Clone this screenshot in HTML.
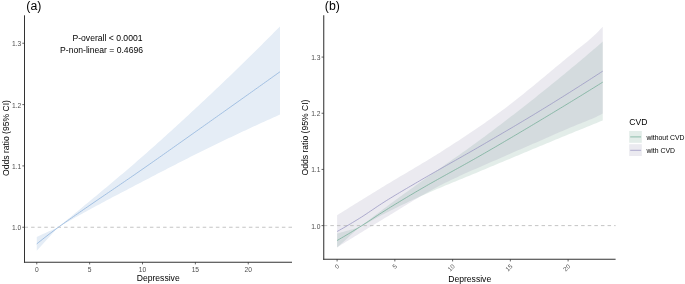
<!DOCTYPE html>
<html><head><meta charset="utf-8"><style>
html,body{margin:0;padding:0;background:#fff;overflow:hidden;}
svg{display:block;will-change:transform;}
text{font-family:"Liberation Sans",sans-serif;}
.tk{font-size:6.7px;fill:#4d4d4d;}
.ttl{font-size:8.6px;fill:#000;}
.lab{font-size:12.3px;fill:#000;}
.leg{font-size:6.85px;fill:#000;}
</style></head><body>
<svg width="685" height="284" viewBox="0 0 685 284">
<rect width="685" height="284" fill="#fff"/>
<path d="M36.75,236.98 L38.79,236.00 L40.84,235.03 L42.88,234.08 L44.93,233.14 L46.97,232.23 L49.01,231.33 L51.06,230.44 L53.10,229.58 L55.15,228.72 L57.19,227.89 L59.23,226.46 L61.28,224.73 L63.32,223.01 L65.36,221.31 L67.41,219.62 L69.45,217.92 L71.50,216.23 L73.54,214.54 L75.58,212.84 L77.63,211.14 L79.67,209.45 L81.72,207.75 L83.76,206.06 L85.80,204.36 L87.85,202.67 L89.89,200.98 L91.94,199.28 L93.98,197.59 L96.02,195.89 L98.07,194.20 L100.11,192.50 L102.16,190.80 L104.20,189.09 L106.24,187.39 L108.29,185.68 L110.33,183.97 L112.37,182.26 L114.42,180.54 L116.46,178.82 L118.51,177.10 L120.55,175.37 L122.59,173.64 L124.64,171.90 L126.68,170.16 L128.73,168.41 L130.77,166.66 L132.81,164.90 L134.86,163.13 L136.90,161.36 L138.95,159.58 L140.99,157.80 L143.03,156.00 L145.08,154.21 L147.12,152.41 L149.16,150.60 L151.21,148.79 L153.25,146.97 L155.30,145.15 L157.34,143.32 L159.38,141.49 L161.43,139.65 L163.47,137.81 L165.52,135.97 L167.56,134.12 L169.60,132.27 L171.65,130.41 L173.69,128.55 L175.74,126.68 L177.78,124.81 L179.82,122.94 L181.87,121.06 L183.91,119.18 L185.96,117.29 L188.00,115.40 L190.04,113.51 L192.09,111.62 L194.13,109.72 L196.17,107.81 L198.22,105.91 L200.26,104.00 L202.31,102.09 L204.35,100.17 L206.39,98.25 L208.44,96.33 L210.48,94.40 L212.53,92.47 L214.57,90.54 L216.61,88.60 L218.66,86.65 L220.70,84.71 L222.75,82.75 L224.79,80.80 L226.83,78.84 L228.88,76.88 L230.92,74.91 L232.97,72.94 L235.01,70.96 L237.05,68.98 L239.10,67.00 L241.14,65.01 L243.18,63.01 L245.23,61.02 L247.27,59.02 L249.32,57.01 L251.36,55.00 L253.40,52.99 L255.45,50.97 L257.49,48.95 L259.54,46.92 L261.58,44.89 L263.62,42.85 L265.67,40.81 L267.71,38.77 L269.76,36.72 L271.80,34.66 L273.84,32.61 L275.89,30.54 L277.93,28.48 L279.98,26.41 L279.98,114.60 L277.93,115.51 L275.89,116.42 L273.84,117.33 L271.80,118.25 L269.76,119.17 L267.71,120.09 L265.67,121.01 L263.62,121.94 L261.58,122.87 L259.54,123.80 L257.49,124.74 L255.45,125.68 L253.40,126.62 L251.36,127.56 L249.32,128.51 L247.27,129.46 L245.23,130.41 L243.18,131.36 L241.14,132.32 L239.10,133.28 L237.05,134.24 L235.01,135.20 L232.97,136.17 L230.92,137.14 L228.88,138.12 L226.83,139.09 L224.79,140.07 L222.75,141.05 L220.70,142.03 L218.66,143.02 L216.61,144.01 L214.57,145.00 L212.53,146.00 L210.48,146.99 L208.44,147.99 L206.39,149.00 L204.35,150.00 L202.31,151.01 L200.26,152.02 L198.22,153.03 L196.17,154.05 L194.13,155.07 L192.09,156.09 L190.04,157.12 L188.00,158.15 L185.96,159.18 L183.91,160.21 L181.87,161.25 L179.82,162.29 L177.78,163.33 L175.74,164.38 L173.69,165.42 L171.65,166.47 L169.60,167.52 L167.56,168.58 L165.52,169.63 L163.47,170.69 L161.43,171.75 L159.38,172.81 L157.34,173.87 L155.30,174.93 L153.25,176.00 L151.21,177.06 L149.16,178.13 L147.12,179.19 L145.08,180.26 L143.03,181.33 L140.99,182.40 L138.95,183.47 L136.90,184.54 L134.86,185.61 L132.81,186.68 L130.77,187.74 L128.73,188.81 L126.68,189.88 L124.64,190.95 L122.59,192.01 L120.55,193.08 L118.51,194.15 L116.46,195.23 L114.42,196.30 L112.37,197.37 L110.33,198.45 L108.29,199.53 L106.24,200.61 L104.20,201.70 L102.16,202.79 L100.11,203.88 L98.07,204.98 L96.02,206.07 L93.98,207.18 L91.94,208.29 L89.89,209.40 L87.85,210.52 L85.80,211.64 L83.76,212.77 L81.72,213.90 L79.67,215.04 L77.63,216.19 L75.58,217.34 L73.54,218.50 L71.50,219.66 L69.45,220.82 L67.41,221.99 L65.36,223.16 L63.32,224.35 L61.28,225.56 L59.23,226.79 L57.19,228.36 L55.15,230.55 L53.10,232.76 L51.06,234.97 L49.01,237.19 L46.97,239.42 L44.93,241.65 L42.88,243.90 L40.84,246.16 L38.79,248.43 L36.75,250.70 Z" fill="#e5edf6"/>
<line x1="24.5" y1="227.25" x2="292" y2="227.25" stroke="#bdbdbd" stroke-width="0.9" stroke-dasharray="3.5,3.1"/>
<path d="M36.75,243.88 L38.79,242.24 L40.84,240.62 L42.88,239.01 L44.93,237.41 L46.97,235.83 L49.01,234.26 L51.06,232.71 L53.10,231.17 L55.15,229.64 L57.19,228.12 L59.23,226.62 L61.28,225.14 L63.32,223.68 L65.36,222.24 L67.41,220.80 L69.45,219.37 L71.50,217.95 L73.54,216.52 L75.58,215.09 L77.63,213.67 L79.67,212.25 L81.72,210.83 L83.76,209.42 L85.80,208.01 L87.85,206.61 L89.89,205.20 L91.94,203.80 L93.98,202.40 L96.02,201.00 L98.07,199.61 L100.11,198.21 L102.16,196.82 L104.20,195.43 L106.24,194.04 L108.29,192.64 L110.33,191.25 L112.37,189.86 L114.42,188.47 L116.46,187.08 L118.51,185.68 L120.55,184.29 L122.59,182.89 L124.64,181.49 L126.68,180.09 L128.73,178.69 L130.77,177.28 L132.81,175.88 L134.86,174.47 L136.90,173.05 L138.95,171.63 L140.99,170.21 L143.03,168.79 L145.08,167.36 L147.12,165.93 L149.16,164.50 L151.21,163.07 L153.25,161.64 L155.30,160.20 L157.34,158.77 L159.38,157.33 L161.43,155.89 L163.47,154.45 L165.52,153.01 L167.56,151.56 L169.60,150.12 L171.65,148.67 L173.69,147.23 L175.74,145.78 L177.78,144.34 L179.82,142.89 L181.87,141.44 L183.91,139.99 L185.96,138.55 L188.00,137.10 L190.04,135.65 L192.09,134.20 L194.13,132.76 L196.17,131.31 L198.22,129.86 L200.26,128.41 L202.31,126.97 L204.35,125.52 L206.39,124.07 L208.44,122.63 L210.48,121.18 L212.53,119.73 L214.57,118.28 L216.61,116.83 L218.66,115.38 L220.70,113.94 L222.75,112.49 L224.79,111.04 L226.83,109.59 L228.88,108.14 L230.92,106.68 L232.97,105.23 L235.01,103.78 L237.05,102.33 L239.10,100.88 L241.14,99.43 L243.18,97.97 L245.23,96.52 L247.27,95.07 L249.32,93.61 L251.36,92.16 L253.40,90.71 L255.45,89.25 L257.49,87.80 L259.54,86.34 L261.58,84.88 L263.62,83.43 L265.67,81.97 L267.71,80.52 L269.76,79.06 L271.80,77.60 L273.84,76.14 L275.89,74.69 L277.93,73.23 L279.98,71.77" fill="none" stroke="#9bbbe0" stroke-width="0.9"/>
<line x1="24.5" y1="15.3" x2="24.5" y2="262.7" stroke="#333" stroke-width="1.05"/>
<line x1="23.95" y1="262.2" x2="292" y2="262.2" stroke="#333" stroke-width="1.05"/>
<line x1="22.3" y1="227.25" x2="24.5" y2="227.25" stroke="#333" stroke-width="0.75"/>
<text x="21.2" y="230.25" class="tk" text-anchor="end">1.0</text>
<line x1="22.3" y1="165.9" x2="24.5" y2="165.9" stroke="#333" stroke-width="0.75"/>
<text x="21.2" y="168.9" class="tk" text-anchor="end">1.1</text>
<line x1="22.3" y1="104.6" x2="24.5" y2="104.6" stroke="#333" stroke-width="0.75"/>
<text x="21.2" y="107.6" class="tk" text-anchor="end">1.2</text>
<line x1="22.3" y1="43.25" x2="24.5" y2="43.25" stroke="#333" stroke-width="0.75"/>
<text x="21.2" y="46.25" class="tk" text-anchor="end">1.3</text>
<line x1="36.75" y1="262.2" x2="36.75" y2="264.4" stroke="#333" stroke-width="0.75"/>
<text x="36.75" y="271.7" class="tk" text-anchor="middle">0</text>
<line x1="89.625" y1="262.2" x2="89.625" y2="264.4" stroke="#333" stroke-width="0.75"/>
<text x="89.625" y="271.7" class="tk" text-anchor="middle">5</text>
<line x1="142.5" y1="262.2" x2="142.5" y2="264.4" stroke="#333" stroke-width="0.75"/>
<text x="142.5" y="271.7" class="tk" text-anchor="middle">10</text>
<line x1="195.375" y1="262.2" x2="195.375" y2="264.4" stroke="#333" stroke-width="0.75"/>
<text x="195.375" y="271.7" class="tk" text-anchor="middle">15</text>
<line x1="248.25" y1="262.2" x2="248.25" y2="264.4" stroke="#333" stroke-width="0.75"/>
<text x="248.25" y="271.7" class="tk" text-anchor="middle">20</text>
<text x="142.5" y="40.5" class="ttl" text-anchor="end">P-overall &lt; 0.0001</text>
<text x="143" y="53.2" class="ttl" text-anchor="end">P-non-linear = 0.4696</text>
<text x="158.2" y="281" class="ttl" text-anchor="middle">Depressive</text>
<text transform="translate(8.8,138) rotate(-90)" class="ttl" text-anchor="middle">Odds ratio (95% CI)</text>
<text x="26.3" y="9.7" class="lab">(a)</text>
<path d="M337.10,233.49 L339.33,232.91 L341.56,232.32 L343.80,231.71 L346.03,231.10 L348.26,230.49 L350.49,229.86 L352.73,229.23 L354.96,228.59 L357.19,227.94 L359.42,227.12 L361.66,225.50 L363.89,223.84 L366.12,222.17 L368.35,220.48 L370.59,218.77 L372.82,217.06 L375.05,215.34 L377.28,213.63 L379.51,211.92 L381.75,210.23 L383.98,208.55 L386.21,206.90 L388.44,205.25 L390.68,203.61 L392.91,201.97 L395.14,200.34 L397.37,198.71 L399.61,197.09 L401.84,195.47 L404.07,193.85 L406.30,192.24 L408.54,190.63 L410.77,189.02 L413.00,187.41 L415.23,185.81 L417.46,184.21 L419.70,182.62 L421.93,181.02 L424.16,179.44 L426.39,177.86 L428.63,176.28 L430.86,174.71 L433.09,173.14 L435.32,171.58 L437.56,170.02 L439.79,168.46 L442.02,166.90 L444.25,165.34 L446.49,163.78 L448.72,162.22 L450.95,160.66 L453.18,159.10 L455.41,157.53 L457.65,155.96 L459.88,154.39 L462.11,152.81 L464.34,151.23 L466.58,149.64 L468.81,148.04 L471.04,146.44 L473.27,144.83 L475.51,143.21 L477.74,141.58 L479.97,139.94 L482.20,138.29 L484.44,136.63 L486.67,134.97 L488.90,133.31 L491.13,131.64 L493.36,129.96 L495.60,128.28 L497.83,126.59 L500.06,124.90 L502.29,123.21 L504.53,121.50 L506.76,119.80 L508.99,118.08 L511.22,116.37 L513.46,114.64 L515.69,112.92 L517.92,111.18 L520.15,109.45 L522.39,107.70 L524.62,105.96 L526.85,104.20 L529.08,102.45 L531.31,100.68 L533.55,98.92 L535.78,97.15 L538.01,95.37 L540.24,93.59 L542.48,91.80 L544.71,90.01 L546.94,88.22 L549.17,86.42 L551.41,84.61 L553.64,82.80 L555.87,80.98 L558.10,79.16 L560.34,77.33 L562.57,75.50 L564.80,73.66 L567.03,71.82 L569.26,69.97 L571.50,68.12 L573.73,66.26 L575.96,64.40 L578.19,62.53 L580.43,60.66 L582.66,58.78 L584.89,56.89 L587.12,55.00 L589.36,53.10 L591.59,51.20 L593.82,49.30 L596.05,47.38 L598.29,45.47 L600.52,43.54 L602.75,41.61 L602.75,120.47 L600.52,121.37 L598.29,122.28 L596.05,123.18 L593.82,124.09 L591.59,125.00 L589.36,125.91 L587.12,126.81 L584.89,127.72 L582.66,128.63 L580.43,129.55 L578.19,130.46 L575.96,131.37 L573.73,132.28 L571.50,133.20 L569.26,134.11 L567.03,135.03 L564.80,135.95 L562.57,136.87 L560.34,137.78 L558.10,138.70 L555.87,139.62 L553.64,140.54 L551.41,141.47 L549.17,142.39 L546.94,143.31 L544.71,144.24 L542.48,145.16 L540.24,146.08 L538.01,147.01 L535.78,147.94 L533.55,148.87 L531.31,149.79 L529.08,150.72 L526.85,151.66 L524.62,152.59 L522.39,153.52 L520.15,154.45 L517.92,155.39 L515.69,156.32 L513.46,157.26 L511.22,158.19 L508.99,159.13 L506.76,160.06 L504.53,161.00 L502.29,161.94 L500.06,162.87 L497.83,163.81 L495.60,164.75 L493.36,165.68 L491.13,166.62 L488.90,167.56 L486.67,168.50 L484.44,169.43 L482.20,170.37 L479.97,171.31 L477.74,172.24 L475.51,173.17 L473.27,174.10 L471.04,175.02 L468.81,175.94 L466.58,176.85 L464.34,177.77 L462.11,178.68 L459.88,179.59 L457.65,180.50 L455.41,181.42 L453.18,182.33 L450.95,183.25 L448.72,184.17 L446.49,185.09 L444.25,186.02 L442.02,186.95 L439.79,187.89 L437.56,188.83 L435.32,189.78 L433.09,190.74 L430.86,191.70 L428.63,192.67 L426.39,193.65 L424.16,194.64 L421.93,195.64 L419.70,196.65 L417.46,197.67 L415.23,198.70 L413.00,199.74 L410.77,200.78 L408.54,201.83 L406.30,202.88 L404.07,203.95 L401.84,205.02 L399.61,206.10 L397.37,207.19 L395.14,208.29 L392.91,209.40 L390.68,210.51 L388.44,211.64 L386.21,212.77 L383.98,213.92 L381.75,215.09 L379.51,216.28 L377.28,217.49 L375.05,218.72 L372.82,219.95 L370.59,221.18 L368.35,222.41 L366.12,223.63 L363.89,224.84 L361.66,226.03 L359.42,227.20 L357.19,229.14 L354.96,231.23 L352.73,233.30 L350.49,235.36 L348.26,237.41 L346.03,239.44 L343.80,241.46 L341.56,243.46 L339.33,245.44 L337.10,247.42 Z" fill="rgb(115,165,145)" fill-opacity="0.2"/>
<path d="M337.10,215.20 L339.33,213.80 L341.56,212.41 L343.80,211.02 L346.03,209.63 L348.26,208.24 L350.49,206.85 L352.73,205.46 L354.96,204.08 L357.19,202.69 L359.42,201.31 L361.66,199.93 L363.89,198.55 L366.12,197.18 L368.35,195.80 L370.59,194.43 L372.82,193.06 L375.05,191.69 L377.28,190.32 L379.51,188.95 L381.75,187.59 L383.98,186.22 L386.21,184.86 L388.44,183.51 L390.68,182.16 L392.91,180.83 L395.14,179.49 L397.37,178.17 L399.61,176.84 L401.84,175.52 L404.07,174.20 L406.30,172.89 L408.54,171.57 L410.77,170.25 L413.00,168.93 L415.23,167.61 L417.46,166.28 L419.70,164.95 L421.93,163.62 L424.16,162.28 L426.39,160.93 L428.63,159.57 L430.86,158.21 L433.09,156.83 L435.32,155.44 L437.56,154.05 L439.79,152.63 L442.02,151.21 L444.25,149.79 L446.49,148.36 L448.72,146.93 L450.95,145.49 L453.18,144.05 L455.41,142.60 L457.65,141.15 L459.88,139.69 L462.11,138.22 L464.34,136.75 L466.58,135.27 L468.81,133.78 L471.04,132.29 L473.27,130.78 L475.51,129.27 L477.74,127.75 L479.97,126.22 L482.20,124.68 L484.44,123.13 L486.67,121.57 L488.90,119.99 L491.13,118.41 L493.36,116.81 L495.60,115.21 L497.83,113.59 L500.06,111.95 L502.29,110.31 L504.53,108.64 L506.76,106.95 L508.99,105.25 L511.22,103.53 L513.46,101.80 L515.69,100.05 L517.92,98.29 L520.15,96.51 L522.39,94.73 L524.62,92.93 L526.85,91.12 L529.08,89.30 L531.31,87.48 L533.55,85.65 L535.78,83.81 L538.01,81.96 L540.24,80.11 L542.48,78.26 L544.71,76.40 L546.94,74.54 L549.17,72.68 L551.41,70.82 L553.64,68.95 L555.87,67.09 L558.10,65.24 L560.34,63.38 L562.57,61.53 L564.80,59.68 L567.03,57.84 L569.26,56.00 L571.50,54.18 L573.73,52.38 L575.96,50.61 L578.19,48.84 L580.43,47.07 L582.66,45.28 L584.89,43.47 L587.12,41.63 L589.36,39.74 L591.59,37.80 L593.82,35.79 L596.05,33.70 L598.29,31.46 L600.52,29.12 L602.75,26.73 L602.75,113.57 L600.52,114.71 L598.29,115.83 L596.05,116.91 L593.82,117.93 L591.59,118.91 L589.36,119.86 L587.12,120.79 L584.89,121.70 L582.66,122.59 L580.43,123.48 L578.19,124.36 L575.96,125.25 L573.73,126.15 L571.50,127.07 L569.26,128.01 L567.03,128.96 L564.80,129.92 L562.57,130.89 L560.34,131.86 L558.10,132.84 L555.87,133.82 L553.64,134.80 L551.41,135.79 L549.17,136.77 L546.94,137.76 L544.71,138.74 L542.48,139.72 L540.24,140.69 L538.01,141.67 L535.78,142.64 L533.55,143.60 L531.31,144.57 L529.08,145.53 L526.85,146.50 L524.62,147.46 L522.39,148.43 L520.15,149.39 L517.92,150.36 L515.69,151.33 L513.46,152.30 L511.22,153.27 L508.99,154.24 L506.76,155.22 L504.53,156.20 L502.29,157.18 L500.06,158.17 L497.83,159.16 L495.60,160.14 L493.36,161.12 L491.13,162.10 L488.90,163.07 L486.67,164.04 L484.44,165.01 L482.20,165.98 L479.97,166.95 L477.74,167.92 L475.51,168.90 L473.27,169.87 L471.04,170.86 L468.81,171.85 L466.58,172.84 L464.34,173.84 L462.11,174.85 L459.88,175.87 L457.65,176.90 L455.41,177.94 L453.18,179.00 L450.95,180.06 L448.72,181.14 L446.49,182.23 L444.25,183.34 L442.02,184.47 L439.79,185.61 L437.56,186.77 L435.32,187.96 L433.09,189.17 L430.86,190.41 L428.63,191.66 L426.39,192.93 L424.16,194.21 L421.93,195.51 L419.70,196.83 L417.46,198.16 L415.23,199.50 L413.00,200.85 L410.77,202.20 L408.54,203.57 L406.30,204.94 L404.07,206.31 L401.84,207.69 L399.61,209.06 L397.37,210.44 L395.14,211.81 L392.91,213.19 L390.68,214.55 L388.44,215.91 L386.21,217.27 L383.98,218.62 L381.75,219.96 L379.51,221.31 L377.28,222.66 L375.05,224.02 L372.82,225.38 L370.59,226.73 L368.35,228.10 L366.12,229.46 L363.89,230.83 L361.66,232.20 L359.42,233.57 L357.19,234.94 L354.96,236.32 L352.73,237.69 L350.49,239.07 L348.26,240.46 L346.03,241.84 L343.80,243.23 L341.56,244.62 L339.33,246.01 L337.10,247.40 Z" fill="rgb(155,150,178)" fill-opacity="0.2"/>
<line x1="323.75" y1="225.6" x2="615.6" y2="225.6" stroke="#bdbdbd" stroke-width="0.9" stroke-dasharray="3.5,3.1"/>
<path d="M337.10,240.50 L339.33,239.21 L341.56,237.91 L343.80,236.61 L346.03,235.29 L348.26,233.96 L350.49,232.62 L352.73,231.27 L354.96,229.91 L357.19,228.54 L359.42,227.16 L361.66,225.76 L363.89,224.34 L366.12,222.90 L368.35,221.44 L370.59,219.98 L372.82,218.50 L375.05,217.03 L377.28,215.56 L379.51,214.11 L381.75,212.66 L383.98,211.24 L386.21,209.84 L388.44,208.45 L390.68,207.07 L392.91,205.70 L395.14,204.33 L397.37,202.97 L399.61,201.61 L401.84,200.26 L404.07,198.92 L406.30,197.58 L408.54,196.25 L410.77,194.93 L413.00,193.61 L415.23,192.29 L417.46,190.98 L419.70,189.68 L421.93,188.38 L424.16,187.09 L426.39,185.81 L428.63,184.53 L430.86,183.26 L433.09,182.00 L435.32,180.75 L437.56,179.50 L439.79,178.25 L442.02,177.01 L444.25,175.77 L446.49,174.53 L448.72,173.29 L450.95,172.06 L453.18,170.83 L455.41,169.59 L457.65,168.36 L459.88,167.12 L462.11,165.88 L464.34,164.64 L466.58,163.39 L468.81,162.15 L471.04,160.89 L473.27,159.63 L475.51,158.37 L477.74,157.10 L479.97,155.82 L482.20,154.53 L484.44,153.25 L486.67,151.96 L488.90,150.66 L491.13,149.37 L493.36,148.07 L495.60,146.77 L497.83,145.47 L500.06,144.17 L502.29,142.86 L504.53,141.55 L506.76,140.24 L508.99,138.93 L511.22,137.61 L513.46,136.30 L515.69,134.98 L517.92,133.66 L520.15,132.34 L522.39,131.01 L524.62,129.68 L526.85,128.36 L529.08,127.03 L531.31,125.70 L533.55,124.36 L535.78,123.03 L538.01,121.69 L540.24,120.35 L542.48,119.01 L544.71,117.67 L546.94,116.33 L549.17,114.98 L551.41,113.64 L553.64,112.29 L555.87,110.94 L558.10,109.59 L560.34,108.23 L562.57,106.88 L564.80,105.52 L567.03,104.16 L569.26,102.80 L571.50,101.43 L573.73,100.07 L575.96,98.70 L578.19,97.33 L580.43,95.96 L582.66,94.59 L584.89,93.21 L587.12,91.83 L589.36,90.45 L591.59,89.07 L593.82,87.69 L596.05,86.31 L598.29,84.92 L600.52,83.53 L602.75,82.14" fill="none" stroke="#78b09b" stroke-width="0.8"/>
<path d="M337.10,231.50 L339.33,230.25 L341.56,228.99 L343.80,227.71 L346.03,226.42 L348.26,225.11 L350.49,223.79 L352.73,222.45 L354.96,221.10 L357.19,219.74 L359.42,218.36 L361.66,216.96 L363.89,215.52 L366.12,214.06 L368.35,212.57 L370.59,211.07 L372.82,209.56 L375.05,208.04 L377.28,206.54 L379.51,205.05 L381.75,203.58 L383.98,202.15 L386.21,200.74 L388.44,199.35 L390.68,197.98 L392.91,196.61 L395.14,195.26 L397.37,193.91 L399.61,192.58 L401.84,191.25 L404.07,189.93 L406.30,188.62 L408.54,187.30 L410.77,186.00 L413.00,184.69 L415.23,183.39 L417.46,182.08 L419.70,180.78 L421.93,179.47 L424.16,178.17 L426.39,176.88 L428.63,175.59 L430.86,174.31 L433.09,173.03 L435.32,171.75 L437.56,170.48 L439.79,169.21 L442.02,167.94 L444.25,166.68 L446.49,165.41 L448.72,164.15 L450.95,162.88 L453.18,161.62 L455.41,160.36 L457.65,159.09 L459.88,157.83 L462.11,156.56 L464.34,155.29 L466.58,154.02 L468.81,152.75 L471.04,151.47 L473.27,150.19 L475.51,148.90 L477.74,147.61 L479.97,146.32 L482.20,145.02 L484.44,143.72 L486.67,142.42 L488.90,141.12 L491.13,139.82 L493.36,138.52 L495.60,137.22 L497.83,135.91 L500.06,134.61 L502.29,133.30 L504.53,131.99 L506.76,130.68 L508.99,129.37 L511.22,128.05 L513.46,126.73 L515.69,125.41 L517.92,124.09 L520.15,122.76 L522.39,121.43 L524.62,120.10 L526.85,118.76 L529.08,117.42 L531.31,116.07 L533.55,114.72 L535.78,113.37 L538.01,112.01 L540.24,110.65 L542.48,109.28 L544.71,107.92 L546.94,106.54 L549.17,105.17 L551.41,103.79 L553.64,102.40 L555.87,101.02 L558.10,99.63 L560.34,98.23 L562.57,96.84 L564.80,95.44 L567.03,94.03 L569.26,92.63 L571.50,91.22 L573.73,89.81 L575.96,88.39 L578.19,86.97 L580.43,85.55 L582.66,84.12 L584.89,82.69 L587.12,81.26 L589.36,79.82 L591.59,78.38 L593.82,76.94 L596.05,75.49 L598.29,74.04 L600.52,72.59 L602.75,71.14" fill="none" stroke="#9c99c4" stroke-width="0.8"/>
<line x1="323.75" y1="15.3" x2="323.75" y2="259.75" stroke="#333" stroke-width="1.05"/>
<line x1="323.2" y1="259.25" x2="615.6" y2="259.25" stroke="#333" stroke-width="1.05"/>
<line x1="321.55" y1="225.6" x2="323.75" y2="225.6" stroke="#333" stroke-width="0.75"/>
<text x="320.45" y="228.6" class="tk" text-anchor="end">1.0</text>
<line x1="321.55" y1="169.42999999999995" x2="323.75" y2="169.42999999999995" stroke="#333" stroke-width="0.75"/>
<text x="320.45" y="172.42999999999995" class="tk" text-anchor="end">1.1</text>
<line x1="321.55" y1="113.26" x2="323.75" y2="113.26" stroke="#333" stroke-width="0.75"/>
<text x="320.45" y="116.26" class="tk" text-anchor="end">1.2</text>
<line x1="321.55" y1="57.08999999999995" x2="323.75" y2="57.08999999999995" stroke="#333" stroke-width="0.75"/>
<text x="320.45" y="60.08999999999995" class="tk" text-anchor="end">1.3</text>
<line x1="337.1" y1="259.25" x2="337.1" y2="261.45" stroke="#333" stroke-width="0.75"/>
<text transform="translate(337.6,264.65) rotate(-45)" class="tk" style="font-size:6.3px" text-anchor="end" dy="3.0">0</text>
<line x1="394.85" y1="259.25" x2="394.85" y2="261.45" stroke="#333" stroke-width="0.75"/>
<text transform="translate(395.35,264.65) rotate(-45)" class="tk" style="font-size:6.3px" text-anchor="end" dy="3.0">5</text>
<line x1="452.6" y1="259.25" x2="452.6" y2="261.45" stroke="#333" stroke-width="0.75"/>
<text transform="translate(453.1,264.65) rotate(-45)" class="tk" style="font-size:6.3px" text-anchor="end" dy="3.0">10</text>
<line x1="510.35" y1="259.25" x2="510.35" y2="261.45" stroke="#333" stroke-width="0.75"/>
<text transform="translate(510.85,264.65) rotate(-45)" class="tk" style="font-size:6.3px" text-anchor="end" dy="3.0">15</text>
<line x1="568.1" y1="259.25" x2="568.1" y2="261.45" stroke="#333" stroke-width="0.75"/>
<text transform="translate(568.6,264.65) rotate(-45)" class="tk" style="font-size:6.3px" text-anchor="end" dy="3.0">20</text>
<text x="469.7" y="281.5" class="ttl" text-anchor="middle">Depressive</text>
<text transform="translate(308,137.5) rotate(-90)" class="ttl" text-anchor="middle">Odds ratio (95% CI)</text>
<text x="324.8" y="9.7" class="lab">(b)</text>
<text x="629.2" y="124.8" class="ttl">CVD</text>
<rect x="629.2" y="131" width="12.6" height="11.8" fill="rgb(115,165,145)" fill-opacity="0.2"/>
<line x1="630.2" y1="136.9" x2="641.1" y2="136.9" stroke="#78b09b" stroke-width="0.8"/>
<rect x="629.2" y="144.2" width="12.6" height="11.8" fill="rgb(155,150,178)" fill-opacity="0.2"/>
<line x1="630.2" y1="150.3" x2="641.1" y2="150.3" stroke="#9c99c4" stroke-width="0.8"/>
<text x="646.4" y="139.5" class="leg">without CVD</text>
<text x="646.4" y="152.8" class="leg">with CVD</text>
</svg>
</body></html>
